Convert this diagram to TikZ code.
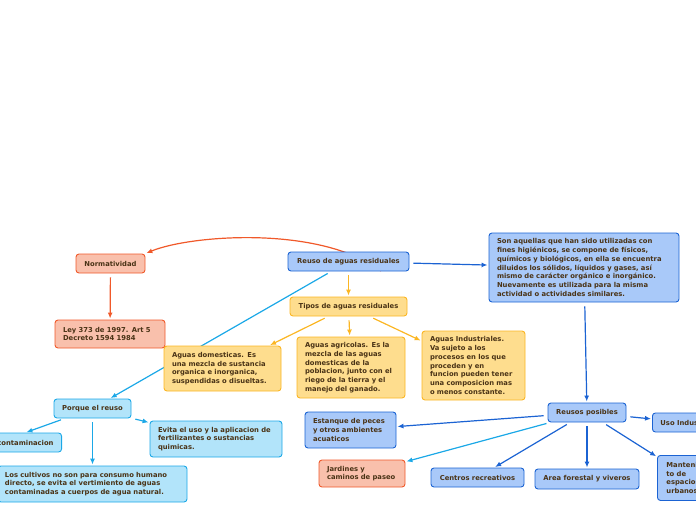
\documentclass[tikz,border=0pt]{standalone}
\usepackage{fontspec}
\setmainfont{DejaVu Sans}
\usetikzlibrary{arrows.meta,backgrounds}
\definecolor{inkbrown}{HTML}{4A3316}
\definecolor{bluefill}{HTML}{A9C9F9}
\definecolor{blueline}{HTML}{1B63D3}
\definecolor{yellowfill}{HTML}{FEDD8E}
\definecolor{yellowline}{HTML}{FBB623}
\definecolor{redfill}{HTML}{F9C0AC}
\definecolor{redline}{HTML}{F0592A}
\definecolor{cyanfill}{HTML}{B2E4FA}
\definecolor{cyanline}{HTML}{1BA8E7}

\begin{document}
\begin{tikzpicture}[x=1pt, y=-1pt,
    box/.style={draw, rounded corners=3pt, line width=0.9pt, text=inkbrown,
        font=\fontsize{6.8}{8.7}\selectfont\bfseries, inner xsep=8pt, inner ysep=2pt},
    bluebox/.style={box, fill=bluefill, draw=blueline},
    yellowbox/.style={box, fill=yellowfill, draw=yellowline},
    redbox/.style={box, fill=redfill, draw=redline},
    cyanbox/.style={box, fill=cyanfill, draw=cyanline},
    link/.style={line width=1.2pt, -{Latex[length=6pt,width=5pt]}, shorten <=4pt, shorten >=1pt}]

    \useasboundingbox (0,0) rectangle (696,520);
    \clip (0,0) rectangle (696,520);

    % Centre
    \node[bluebox, minimum width=121pt, minimum height=19pt] (reuso) at (348.5,261.5) {Reuso de aguas residuales};
    \node[bluebox, text width=174pt, minimum height=69pt, align=left] (definicion) at (584,267.5)
        {Son aquellas que han sido utilizadas con\\fines higiénicos, se compone de físicos,\\químicos y biológicos, en ella se encuentra\\diluidos los sólidos, líquidos y gases, así\\mismo de carácter orgánico e inorgánico.\\Nuevamente es utilizada para la misma\\actividad o actividades similares.};

    % Normatividad
    \node[redbox, minimum width=69pt, minimum height=19pt] (norma) at (110.5,263.5) {Normatividad};
    \node[redbox, text width=94pt, minimum height=28pt, align=left] (ley) at (110,334)
        {Ley 373 de 1997. Art 5\\Decreto 1594 1984};

    % Tipos
    \node[yellowbox, minimum width=117pt, minimum height=19pt] (tipos) at (348.5,306.5) {Tipos de aguas residuales};
    \node[yellowbox, text width=101pt, minimum height=45pt, align=left] (domesticas) at (222.5,368.5)
        {Aguas domesticas. Es\\una mezcla de sustancia\\organica e inorganica,\\suspendidas o disueltas.};
    \node[yellowbox, text width=92pt, minimum height=61pt, align=left] (agricolas) at (351,367.5)
        {Aguas agricolas. Es la\\mezcla de las aguas\\domesticas de la\\poblacion, junto con el\\riego de la tierra y el\\manejo del ganado.};
    \node[yellowbox, text width=87pt, minimum height=69pt, align=left] (industriales) at (473.5,365.5)
        {Aguas Industriales.\\Va sujeto a los\\procesos en los que\\proceden y en\\funcion pueden tener\\una composicion mas\\o menos constante.};

    % Porque el reuso
    \node[cyanbox, minimum width=77pt, minimum height=19pt] (porque) at (92.5,408.5) {Porque el reuso};
    \node[cyanbox, minimum height=19pt, anchor=east] (contaminacion) at (62,442.5) {contaminacion};
    \node[cyanbox, text width=116pt, minimum height=36pt, align=left] (evita) at (216,439)
        {Evita el uso y la aplicacion de\\fertilizantes o sustancias\\quimicas.};
    \node[cyanbox, text width=175pt, inner xsep=7pt, minimum height=36pt, align=left] (cultivos) at (92.5,484)
        {Los cultivos no son para consumo humano\\directo, se evita el vertimiento de aguas\\contaminadas a cuerpos de agua natural.};

    % Reusos posibles
    \node[bluebox, minimum width=78pt, minimum height=19pt] (reusos) at (587,412.5) {Reusos posibles};
    \node[bluebox, text width=75pt, minimum height=36pt, align=left] (estanque) at (350.5,430)
        {Estanque de peces\\y otros ambientes\\acuaticos};
    \node[redbox, text width=70pt, minimum height=27pt, align=left] (jardines) at (362,473.5)
        {Jardines y\\caminos de paseo};
    \node[bluebox, minimum width=93pt, minimum height=19pt] (centros) at (477.5,477.5) {Centros recreativos};
    \node[bluebox, minimum width=104pt, minimum height=20pt] (forestal) at (587,479) {Area forestal y viveros};
    \node[bluebox, minimum height=19pt, anchor=west] (industrial) at (652,422.5) {Uso Industrial};
    \node[bluebox, text width=48pt, inner xsep=9pt, minimum height=45pt, align=left, anchor=north west] (urbanos) at (657,455)
        {Mantenimien\\to de\\espacios\\urbanos};

    \coordinate (curvestart) at (381,271);

    % Connections
    \begin{pgfonlayer}{background}
        \draw[link, redline, shorten <=0pt] (curvestart) .. controls (320,225) and (190,235) .. (norma.north east);
        \draw[link, redline] (norma) -- (ley);
        \draw[link, blueline] (reuso) -- (definicion);
        \draw[link, yellowline] (reuso) -- (tipos);
        \draw[link, cyanline] (reuso) -- (porque);
        \draw[link, yellowline] (tipos) -- (domesticas);
        \draw[link, yellowline] (tipos) -- (agricolas);
        \draw[link, yellowline] (tipos) -- (industriales);
        \draw[link, cyanline] (porque) -- (contaminacion.north);
        \draw[link, cyanline] (porque) -- (cultivos);
        \draw[link, cyanline] (porque) -- (evita);
        \draw[link, blueline] (definicion) -- (reusos);
        \draw[link, blueline] (reusos) -- (estanque);
        \draw[link, cyanline] (reusos) -- (jardines);
        \draw[link, blueline] (reusos) -- (centros);
        \draw[link, blueline] (reusos) -- (forestal);
        \draw[link, blueline] (reusos) -- (industrial);
        \draw[link, blueline] (reusos) -- (urbanos);
    \end{pgfonlayer}
\end{tikzpicture}
\end{document}
